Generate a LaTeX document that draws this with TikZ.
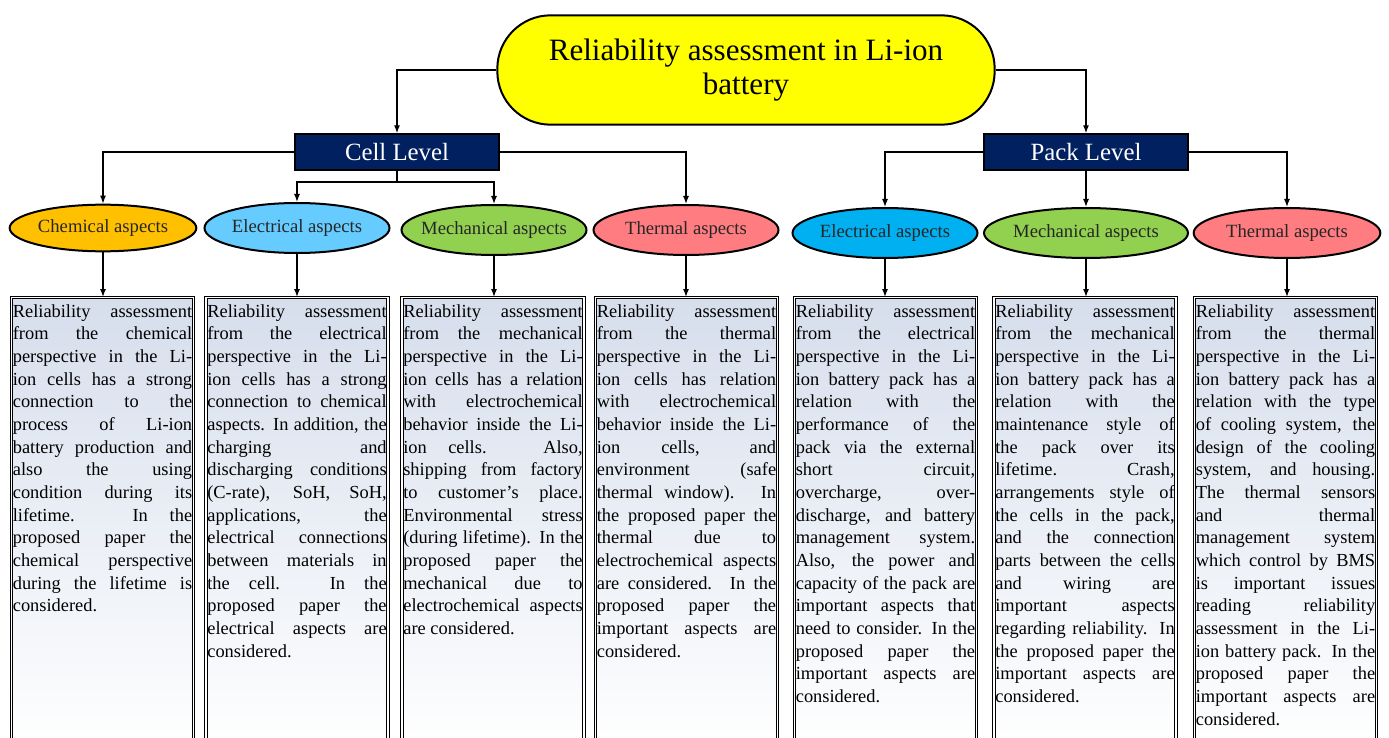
\documentclass[tikz,border=0pt]{standalone}
\usepackage{fontspec}
\setmainfont{Liberation Serif}
\usetikzlibrary{arrows.meta,shapes.geometric}

\definecolor{headfill}{HTML}{FFFF00}
\definecolor{levelfill}{HTML}{002060}
\definecolor{chemfill}{HTML}{FFC000}
\definecolor{elecfill}{HTML}{66CCFF}
\definecolor{elecpackfill}{HTML}{00B0F0}
\definecolor{mechfill}{HTML}{92D050}
\definecolor{thermfill}{HTML}{FF7C80}
\definecolor{notetop}{HTML}{D6DEEC}

\hbadness=10000
\hyphenpenalty=10000

\begin{document}
\begin{tikzpicture}[x=0.75pt,y=-0.75pt,line width=1pt,>={Latex[length=6pt,width=4.5pt]}]
		\tikzstyle{head}=[draw,line width=1.5pt,fill=headfill,rounded corners=40pt,minimum width=373pt,minimum height=82pt,align=center,font=\fontsize{23.3}{25}\selectfont]
		\tikzstyle{level}=[draw,fill=levelfill,text=white,minimum width=153pt,minimum height=27pt,font=\fontsize{18.6}{20}\selectfont]
		\tikzstyle{aspect}=[draw,ellipse,line width=1.5pt,minimum width=138.75pt,minimum height=37.5pt,label={[font=\fontsize{14}{16}\selectfont,text=black!85]center:#1}]
		\tikzstyle{note}=[draw,double,line width=0.8pt,double distance=0.9pt,top color=notetop,bottom color=white,anchor=north,text width=134.5pt,align=justify,inner xsep=1pt,inner ysep=3.75pt,text height=11pt,text depth=322pt,font=\fontsize{13.8}{17}\selectfont]

		\useasboundingbox (0,0) rectangle (1389,738);

		\node[head](title) at (746,70){Reliability assessment in Li-ion\\battery};

		\node[level](cell) at (397,152){Cell Level};
		\node[level](pack) at (1086,152){Pack Level};

		\node[aspect=Chemical aspects,fill=chemfill,minimum width=140pt,minimum height=35pt](chemC) at (103,228){};
		\node[aspect=Electrical aspects,fill=elecfill](elecC) at (297,228){};
		\node[aspect=Mechanical aspects,fill=mechfill](mechC) at (494,230){};
		\node[aspect=Thermal aspects,fill=thermfill](thermC) at (686,230){};
		\node[aspect=Electrical aspects,fill=elecpackfill](elecP) at (885,233){};
		\node[aspect=Mechanical aspects,fill=mechfill,minimum width=153pt](mechP) at (1086,233){};
		\node[aspect=Thermal aspects,fill=thermfill,minimum width=140pt](thermP) at (1287,233){};

		\node[note](chemN) at (102.5,297){Reliability assessment\linebreak
			from the chemical\linebreak
			perspective in the Li-\linebreak
			ion cells has a strong\linebreak
			connection to the\linebreak
			process of Li-ion\linebreak
			battery production and\linebreak
			also the using\linebreak
			condition during its\linebreak
			lifetime. In the\linebreak
			proposed paper the\linebreak
			chemical perspective\linebreak
			during the lifetime is\linebreak
			considered.};
		\node[note](elecCN) at (297,297){Reliability assessment\linebreak
			from the electrical\linebreak
			perspective in the Li-\linebreak
			ion cells has a strong\linebreak
			connection to chemical\linebreak
			aspects. In addition, the\linebreak
			charging and\linebreak
			discharging conditions\linebreak
			(C-rate), SoH, SoH,\linebreak
			applications, the\linebreak
			electrical connections\linebreak
			between materials in\linebreak
			the cell. In the\linebreak
			proposed paper the\linebreak
			electrical aspects are\linebreak
			considered.};
		\node[note](mechCN) at (493,297){Reliability assessment\linebreak
			from the mechanical\linebreak
			perspective in the Li-\linebreak
			ion cells has a relation\linebreak
			with electrochemical\linebreak
			behavior inside the Li-\linebreak
			ion cells. Also,\linebreak
			shipping from factory\linebreak
			to customer's place.\linebreak
			Environmental stress\linebreak
			(during lifetime). In the\linebreak
			proposed paper the\linebreak
			mechanical due to\linebreak
			electrochemical aspects\linebreak
			are considered.};
		\node[note](thermCN) at (686.5,297){Reliability assessment\linebreak
			from the thermal\linebreak
			perspective in the Li-\linebreak
			ion cells has relation\linebreak
			with electrochemical\linebreak
			behavior inside the Li-\linebreak
			ion cells, and\linebreak
			environment (safe\linebreak
			thermal window). In\linebreak
			the proposed paper the\linebreak
			thermal due to\linebreak
			electrochemical aspects\linebreak
			are considered. In the\linebreak
			proposed paper the\linebreak
			important aspects are\linebreak
			considered.};
		\node[note](elecPN) at (885.5,297){Reliability assessment\linebreak
			from the electrical\linebreak
			perspective in the Li-\linebreak
			ion battery pack has a\linebreak
			relation with the\linebreak
			performance of the\linebreak
			pack via the external\linebreak
			short circuit,\linebreak
			overcharge, over-\linebreak
			discharge, and battery\linebreak
			management system.\linebreak
			Also, the power and\linebreak
			capacity of the pack are\linebreak
			important aspects that\linebreak
			need to consider. In the\linebreak
			proposed paper the\linebreak
			important aspects are\linebreak
			considered.};
		\node[note](mechPN) at (1085,297){Reliability assessment\linebreak
			from the mechanical\linebreak
			perspective in the Li-\linebreak
			ion battery pack has a\linebreak
			relation with the\linebreak
			maintenance style of\linebreak
			the pack over its\linebreak
			lifetime. Crash,\linebreak
			arrangements style of\linebreak
			the cells in the pack,\linebreak
			and the connection\linebreak
			parts between the cells\linebreak
			and wiring are\linebreak
			important aspects\linebreak
			regarding reliability. In\linebreak
			the proposed paper the\linebreak
			important aspects are\linebreak
			considered.};
		\node[note](thermPN) at (1285.5,297){Reliability assessment\linebreak
			from the thermal\linebreak
			perspective in the Li-\linebreak
			ion battery pack has a\linebreak
			relation with the type\linebreak
			of cooling system, the\linebreak
			design of the cooling\linebreak
			system, and housing.\linebreak
			The thermal sensors\linebreak
			and thermal\linebreak
			management system\linebreak
			which control by BMS\linebreak
			is important issues\linebreak
			reading reliability\linebreak
			assessment in the Li-\linebreak
			ion battery pack. In the\linebreak
			proposed paper the\linebreak
			important aspects are\linebreak
			considered.};

		\draw[->] (title.west) -| (cell.north);
		\draw[->] (title.east) -| (pack.north);

		\draw[->] (cell.west) -| (chemC.north);
		\draw[->] (cell.east) -| (thermC.north);
		\coordinate (fork) at (397,182);
		\draw (cell.south) -- (fork);
		\draw[->] (fork) -| (elecC.north);
		\draw[->] (fork) -| (mechC.north);

		\draw[->] (pack.west) -| (elecP.north);
		\draw[->] (pack.south) -- (mechP.north);
		\draw[->] (pack.east) -| (thermP.north);

		\foreach \a/\b in {chemC/chemN,elecC/elecCN,mechC/mechCN,thermC/thermCN,elecP/elecPN,mechP/mechPN,thermP/thermPN}
		{
		  \draw[->] (\a.south) -- (\a.south |- \b.north);
		}
\end{tikzpicture}
\end{document}
